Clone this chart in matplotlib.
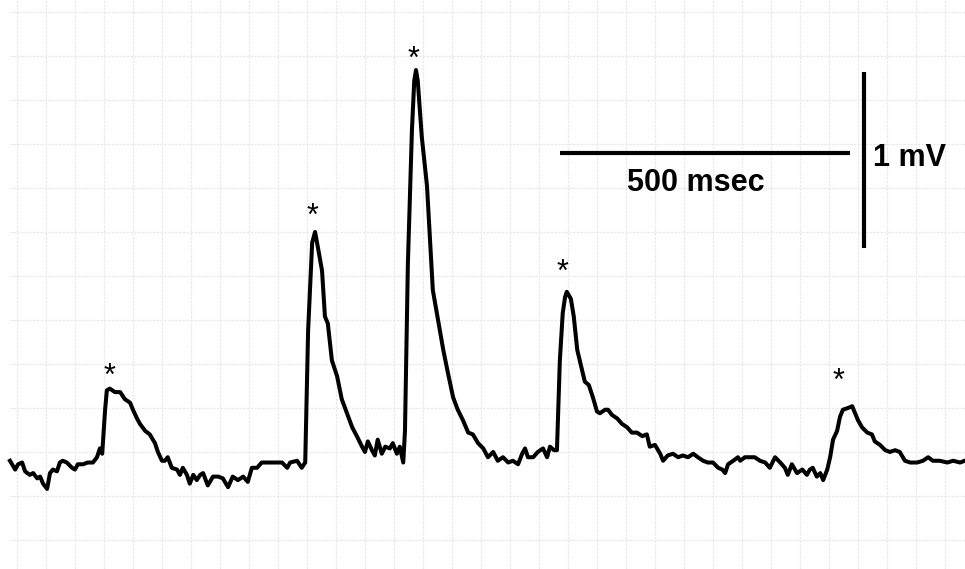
import matplotlib.pyplot as plt
import numpy as np

# trace: time (ms) and voltage (mV)
time_ms = [
    0, 9, 14, 21, 26, 34, 40, 47, 52, 57, 64, 69, 74, 81, 86, 91, 98, 107, 112, 117,
    126, 134, 143, 150, 155, 159, 164, 167, 172, 181, 190, 198, 207, 212, 219, 224, 233, 241, 250, 255,
    262, 267, 272, 279, 288, 293, 298, 305, 310, 316, 322, 328, 333, 341, 350, 359, 367, 376, 384, 393,
    402, 410, 417, 426, 434, 443, 452, 460, 469, 478, 483, 495, 503,
    509, 514, 521, 526, 531, 538, 543, 548, 555, 564, 572, 581, 590, 598, 607, 612, 617, 624, 629, 634,
    641, 647, 655, 660, 667, 672, 678, 681, 686, 693, 697, 700, 703, 710, 719, 729, 738, 747, 755, 764,
    772, 781, 790, 798, 807,
    816, 824, 833, 841, 850, 859, 867, 876, 883, 888, 893, 902, 910, 919, 926, 931, 938, 943, 948, 953,
    957, 960, 967, 972, 978, 986, 991, 998, 1005, 1012, 1017, 1026, 1031, 1038, 1047, 1055, 1064, 1072, 1081, 1090,
    1098, 1103, 1112, 1121, 1126, 1134, 1143, 1152, 1160, 1169, 1178, 1186, 1195, 1203, 1212, 1221, 1228, 1233, 1238, 1247,
    1255,
    1259, 1267, 1276, 1284, 1293, 1302, 1310, 1319, 1328, 1336, 1341, 1348, 1357, 1366, 1374, 1379, 1384, 1391, 1397, 1402,
    1409, 1414, 1419, 1426, 1431, 1436, 1445, 1452, 1457, 1462, 1469, 1478, 1486, 1491, 1500, 1509, 1517, 1526, 1534, 1543,
    1552, 1564, 1574, 1583, 1591, 1603, 1616, 1626, 1638, 1646,
]
trace_mv = [
    .45, .40, .43, .44, .39, .37, .38, .35, .36, .32, .29, .38, .40, .39, .44, .45, .44, .41, .40, .43,
    .43, .44, .44, .47, .52, .49, .74, .85, .86, .84, .84, .80, .78, .74, .69, .66, .62, .60, .55, .50,
    .45, .45, .47, .41, .40, .37, .41, .37, .32, .37, .34, .37, .38, .31, .36, .36, .35, .30, .36, .34,
    .36, .33, .41, .41, .44, .44, .44, .44, .44, .41, .44, .45, .41,
    .44, 1.19, 1.69, 1.75, 1.66, 1.53, 1.27, 1.23, 1.02, .93, .80, .72, .64, .59, .53, .50, .56, .51, .48, .57,
    .49, .53, .52, .55, .49, .53, .44, .62, 1.57, 2.33, 2.61, 2.67, 2.61, 2.29, 2.01, 1.42, 1.25, 1.08, .95, .81,
    .74, .68, .61, .60, .55,
    .52, .47, .50, .45, .47, .44, .45, .43, .49, .52, .47, .47, .50, .52, .47, .53, .51, .51, 1.02, 1.29,
    1.38, 1.41, 1.37, 1.27, 1.08, .97, .90, .88, .81, .73, .72, .74, .74, .71, .69, .66, .64, .61, .61, .59,
    .60, .53, .54, .49, .45, .48, .49, .47, .48, .47, .49, .47, .45, .44, .44, .41, .40, .38, .43, .45,
    .47,
    .45, .47, .47, .47, .45, .44, .41, .47, .44, .41, .37, .43, .38, .40, .37, .40, .41, .36, .38, .34,
    .40, .47, .57, .62, .70, .74, .75, .76, .72, .68, .64, .61, .60, .56, .54, .51, .50, .51, .50, .45,
    .44, .44, .45, .47, .45, .45, .44, .45, .44, .45,
]

# asterisks above the events
star_t = [172, 521, 695, 953, 1429]
star_v = [0.98, 1.89, 2.78, 1.57, 0.95]

# scale bars
bar_t0, bar_len_ms = 948, 500
bar_v = 2.20
vbar_t, vbar_v0, vbar_len_mv = 1472, 1.66, 1.0

fig = plt.figure(figsize=(9.65, 5.69), dpi=100)
ax = fig.add_axes([0, 0, 1, 1])
ax.set_xlim(-17.2, 1646.5)
ax.set_ylim(-0.165, 3.068)
ax.axis('off')

# very light dotted grid: 50 ms x 0.25 mV
grid_kw = dict(color='#e9e9e9', lw=0.9, ls=(0, (2, 1)), zorder=0)
for gx in np.arange(12.07, 1646, 50):
    ax.axvline(gx, **grid_kw)
ax.hlines(np.arange(0, 3.01, 0.25), 0, 1646.5, **grid_kw)

ax.plot(time_ms, trace_mv, color='black', lw=2.9, solid_joinstyle='round', zorder=3)

for t, v in zip(star_t, star_v):
    ax.text(t, v - 0.10, '*', ha='center', va='baseline', fontsize=22,
            family='Liberation Sans', zorder=4)

ax.plot([bar_t0, bar_t0 + bar_len_ms], [bar_v, bar_v], color='black', lw=3, solid_capstyle='butt')
ax.plot([vbar_t, vbar_t], [vbar_v0, vbar_v0 + vbar_len_mv], color='black', lw=3, solid_capstyle='butt')
ax.text(1183, 2.03, '500 msec', ha='center', va='center', fontsize=22,
        fontweight='bold', family='Liberation Sans')
ax.text(1488, 2.17, '1 mV', ha='left', va='center', fontsize=22,
        fontweight='bold', family='Liberation Sans')

plt.savefig('out.png', dpi=100)
